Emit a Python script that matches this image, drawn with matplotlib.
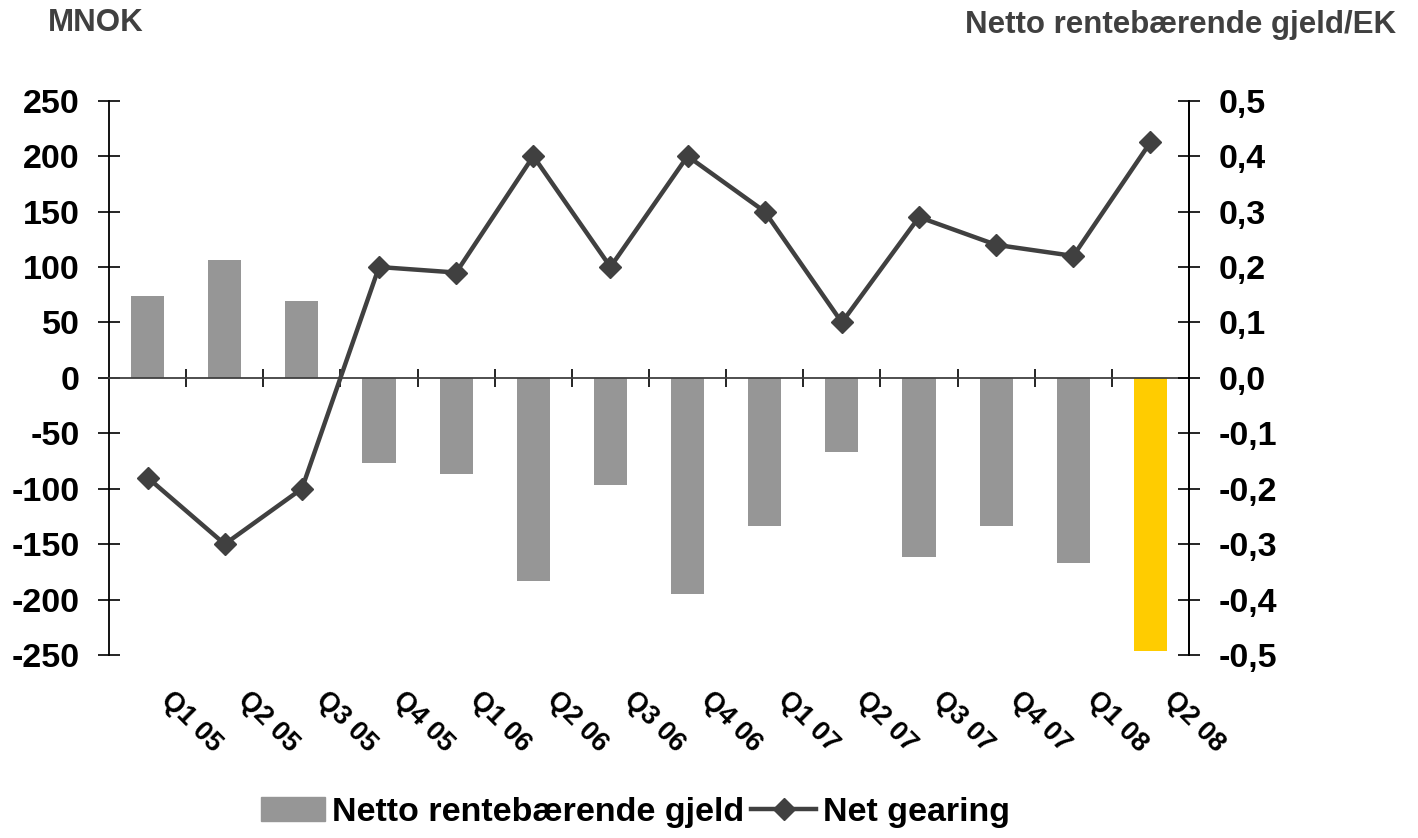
import numpy as np
import matplotlib
matplotlib.use("Agg")
import matplotlib.pyplot as plt
from matplotlib.transforms import ScaledTranslation, blended_transform_factory
from matplotlib.lines import Line2D
from matplotlib.patches import Patch

plt.rcParams['font.family'] = ['Liberation Sans', 'DejaVu Sans']
plt.rcParams['font.weight'] = 'bold'

quarters = ["Q1 05", "Q2 05", "Q3 05", "Q4 05", "Q1 06", "Q2 06", "Q3 06",
            "Q4 06", "Q1 07", "Q2 07", "Q3 07", "Q4 07", "Q1 08", "Q2 08"]
gjeld = [74, 106, 69, -77, -87, -183, -97, -195, -134, -67, -162, -134, -167, -246]
gearing = [-0.18, -0.30, -0.20, 0.20, 0.19, 0.40, 0.20, 0.40, 0.30, 0.10,
           0.29, 0.24, 0.22, 0.425]
bar_colors = ["#969696"] * 13 + ["#FFCC00"]

line_col = "#404040"

fig = plt.figure(figsize=(14.18, 8.38), dpi=100)
ax = fig.add_axes([0.0769, 0.2184, 0.7616, 0.6614])
x = np.arange(len(quarters))

ax.bar(x, gjeld, width=0.43, color=bar_colors, zorder=2)
ax.set_xlim(-0.5, len(quarters) - 0.5)
ax.set_ylim(-250, 250)
ax.set_yticks(np.arange(-250, 251, 50))
ax.set_yticklabels([f"{v}" for v in range(-250, 251, 50)], fontsize=24.5, fontweight='bold')
ax.tick_params(axis='y', direction='inout', length=16, width=1.2, pad=13, color='black')

# x axis on the zero line, ticks between categories
ax.spines['top'].set_visible(False)
ax.spines['bottom'].set_position(('data', 0))
ax.spines['bottom'].set_color(line_col)
ax.spines['bottom'].set_linewidth(1.3)
ax.spines['left'].set_linewidth(1.3)
ax.spines['right'].set_linewidth(1.3)
ax.set_xticks(np.arange(0.5, len(quarters) - 1, 1.0))
ax.set_xticklabels([])
ax.tick_params(axis='x', direction='inout', length=13, width=1.2, color='black')

# category labels below the plot
base = blended_transform_factory(ax.transData, ax.transAxes)
off = ScaledTranslation(0.44, -0.67, fig.dpi_scale_trans)
for i, q in enumerate(quarters):
    ax.text(i, 0, q, transform=base + off, rotation=-45, rotation_mode='anchor',
            ha='center', va='center', fontsize=19.5, fontweight='bold')

ax2 = ax.twinx()
ax2.plot(x, gearing, color=line_col, lw=3.2, marker='D', ms=11.5, zorder=3)
ax2.set_ylim(-0.5, 0.5)
ticks2 = np.round(np.arange(-0.5, 0.51, 0.1), 1)
ax2.set_yticks(ticks2)
ax2.set_yticklabels([f"{v:.1f}".replace(".", ",").replace("-0,0", "0,0") for v in ticks2],
                    fontsize=24.5, fontweight='bold')
ax2.tick_params(axis='y', direction='inout', length=16, width=1.2, pad=13, color='black')
for s in ['top', 'bottom', 'left']:
    ax2.spines[s].set_visible(False)
ax2.spines['right'].set_linewidth(1.3)

fig.text(48 / 1418, 1 - 23 / 838, "MNOK", ha='left', va='center', fontsize=22.5,
         fontweight='bold', color=line_col)
fig.text(1396 / 1418, 1 - 25 / 838, "Netto rentebærende gjeld/EK", ha='right', va='center',
         fontsize=22.5, fontweight='bold', color=line_col)

handles = [Patch(color="#969696"),
           Line2D([], [], color=line_col, lw=3.2, marker='D', ms=11.5)]
fig.legend(handles, ["Netto rentebærende gjeld", "Net gearing"], loc='center',
           bbox_to_anchor=(0.448, 0.031), ncol=2, frameon=False,
           prop={'size': 24.5, 'weight': 'bold'}, handlelength=1.9,
           handletextpad=0.2, columnspacing=0.2)

fig.savefig("out.png", dpi=100)
